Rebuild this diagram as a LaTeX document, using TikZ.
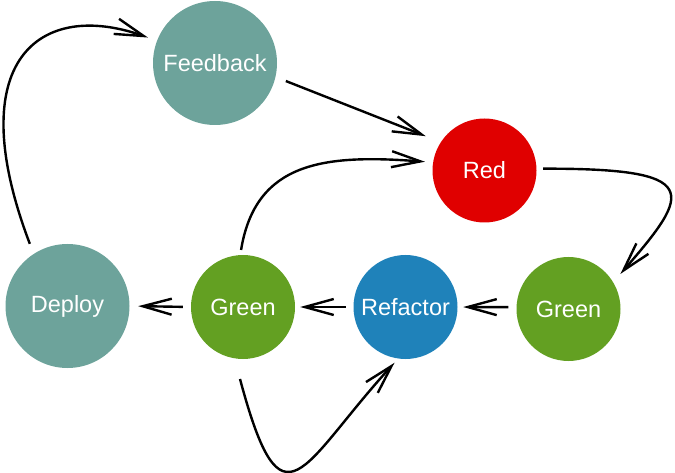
\documentclass[tikz,border=0pt]{standalone}
\usepackage{fontspec}
\setmainfont{Liberation Sans}
\usetikzlibrary{arrows.meta}
\definecolor{tealc}{HTML}{6DA39B}
\definecolor{redc}{HTML}{E00000}
\definecolor{greenc}{HTML}{63A022}
\definecolor{bluec}{HTML}{1F82BA}
\begin{document}
\begin{tikzpicture}[x=1pt,y=-1pt,
  bubble/.style={circle, inner sep=0pt, text=white, font=\fontsize{23.5}{28}\selectfont},
  big/.style={bubble, minimum size=124pt, fill=tealc},
  small/.style={bubble, minimum size=104pt},
  conn/.style={draw=black, line width=2.4pt, -{Straight Barb[length=29pt, width=16pt, line width=2.4pt]}}
]
\useasboundingbox (0,0) rectangle (675,473);
\node[big] (F) at (215,63) {Feedback};
\node[small, fill=redc] (R) at (484.5,170.5) {Red};
\node[small, fill=greenc] (G2) at (568.5,309) {Green};
\node[small, fill=bluec] (Ref) at (405.5,307) {Refactor};
\node[small, fill=greenc] (G1) at (243,307) {Green};
\node[big] (D) at (67.5,306) {Deploy};
\path (G1.center) ++(-3,72) coordinate (g1b);

\draw[conn, shorten <=10.7pt, shorten >=9.5pt] (D.123) .. controls +(-73.7,-194) and +(-116.9,-41.3) .. (F.159.5);
\draw[conn, shorten <=11pt, shorten >=16pt] (F.-13.5) -- (R.147.4);
\draw[conn, shorten <=5pt, shorten >=8pt] (G1.93) .. controls +(15.3,-93.7) and +(-108,-8.2) .. (R.171.9);
\draw[conn, shorten <=6.5pt, shorten >=10.9pt] (R.2.4) .. controls +(166.5,-0.3) and +(79,-90.7) .. (G2.31.7);
\draw[conn, shorten <=8pt, shorten >=5.5pt] (G2.178) -- (Ref.east);
\draw[conn, shorten <=7.5pt, shorten >=5pt] (Ref.west) -- (G1.east);
\draw[conn, shorten <=8pt, shorten >=8.5pt] (G1.west) -- (D.east);
\draw[conn, shorten >=5.5pt] (g1b) .. controls +(42.7,159.4) and +(-97.3,106.2) .. (Ref.262.5);
\end{tikzpicture}
\end{document}
